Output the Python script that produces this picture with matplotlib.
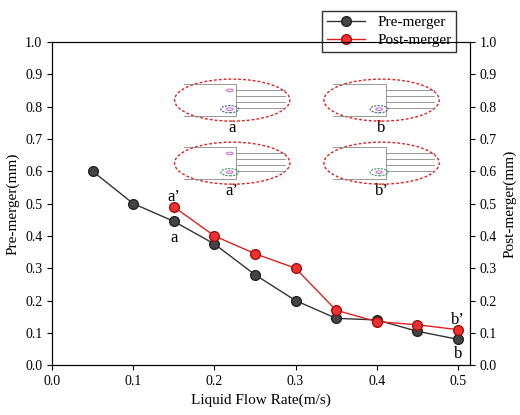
import matplotlib
matplotlib.use("Agg")
import matplotlib.pyplot as plt
from matplotlib.patches import Ellipse, Circle

plt.rcParams["font.family"] = ["Liberation Serif", "DejaVu Serif"]

flow_pre = [0.05, 0.10, 0.15, 0.20, 0.25, 0.30, 0.35, 0.40, 0.45, 0.50]
pre = [0.60, 0.50, 0.445, 0.375, 0.28, 0.20, 0.145, 0.14, 0.105, 0.08]
flow_post = [0.15, 0.20, 0.25, 0.30, 0.35, 0.40, 0.45, 0.50]
post = [0.49, 0.40, 0.345, 0.30, 0.17, 0.135, 0.125, 0.11]

fig = plt.figure(figsize=(5.2, 4.15), dpi=100)
ax = fig.add_axes((0.1, 0.12, 0.804, 0.779))
ax2 = ax.twinx()

ax.plot(flow_pre, pre, "-o", color="#333333", lw=1.0, ms=7,
        mfc="#444444", mec="#222222", label="Pre-merger", zorder=4)
ax2.plot(flow_post, post, "-o", color="#e02020", lw=1.0, ms=7,
         mfc="#f03030", mec="#a01010", label="Post-merger", zorder=3)

for a in (ax, ax2):
    a.set_ylim(0, 1.0)
    a.set_yticks([i / 10 for i in range(11)])
    a.tick_params(labelsize=10, direction="out")
ax.set_xlim(0, 0.515)
ax.set_xticks([0.0, 0.1, 0.2, 0.3, 0.4, 0.5])
ax.set_xlabel("Liquid Flow Rate(m/s)", fontsize=11)
ax.set_ylabel("Pre-merger(mm)", fontsize=11)
ax2.set_ylabel("Post-merger(mm)", fontsize=11)

for txt, x, y in [("a\u2019", 0.15, 0.52), ("a", 0.15, 0.395),
                  ("b\u2019", 0.5, 0.14), ("b", 0.5, 0.035)]:
    ax.text(x, y, txt, ha="center", va="center", fontsize=12)

# inset schematics
insets = [(0.222, 0.82, "a", "#4a6a8a"), (0.406, 0.82, "b", "#4a6a8a"),
          (0.222, 0.625, "a\u2019", "#3a9a6a"), (0.406, 0.625, "b\u2019", "#3a9a6a")]
g = "#888888"
for cx, cy, lab, cc in insets:
    ax.add_patch(Ellipse((cx, cy), 0.142, 0.13, fill=False, ec="#e02020",
                         ls=(0, (2, 1.5)), lw=1.0, zorder=5))
    ax.plot([cx - 0.06, cx + 0.005, cx + 0.005, cx - 0.06],
            [cy + 0.05, cy + 0.05, cy - 0.05, cy - 0.05], color=g, lw=0.6, zorder=5)
    for dy in (0.03, 0.012, -0.006, -0.024):
        ax.plot([cx + 0.005, cx + 0.065], [cy + dy, cy + dy], color=g, lw=0.6, zorder=5)
    ax.add_patch(Circle((cx - 0.003, cy - 0.028), 0.011, fill=False, ec=cc,
                        ls=(0, (2, 1)), lw=0.8, zorder=5))
    ax.add_patch(Circle((cx - 0.003, cy - 0.028), 0.004, fill=False, ec="#d060d0",
                        lw=0.7, zorder=5))
    if lab.startswith("a"):
        ax.add_patch(Circle((cx - 0.003, cy + 0.03), 0.004, fill=False,
                            ec="#d060d0", lw=0.7, zorder=5))
    ax.text(cx, cy - 0.085, lab, ha="center", va="center", fontsize=12)

h1, l1 = ax.get_legend_handles_labels()
h2, l2 = ax2.get_legend_handles_labels()
ax.legend(h1 + h2, l1 + l2, loc="upper right", bbox_to_anchor=(0.985, 1.12),
          fontsize=11, frameon=True, fancybox=False, edgecolor="black",
          borderpad=0.3, labelspacing=0.3, handlelength=2.5)

fig.savefig("out.png", dpi=100)
